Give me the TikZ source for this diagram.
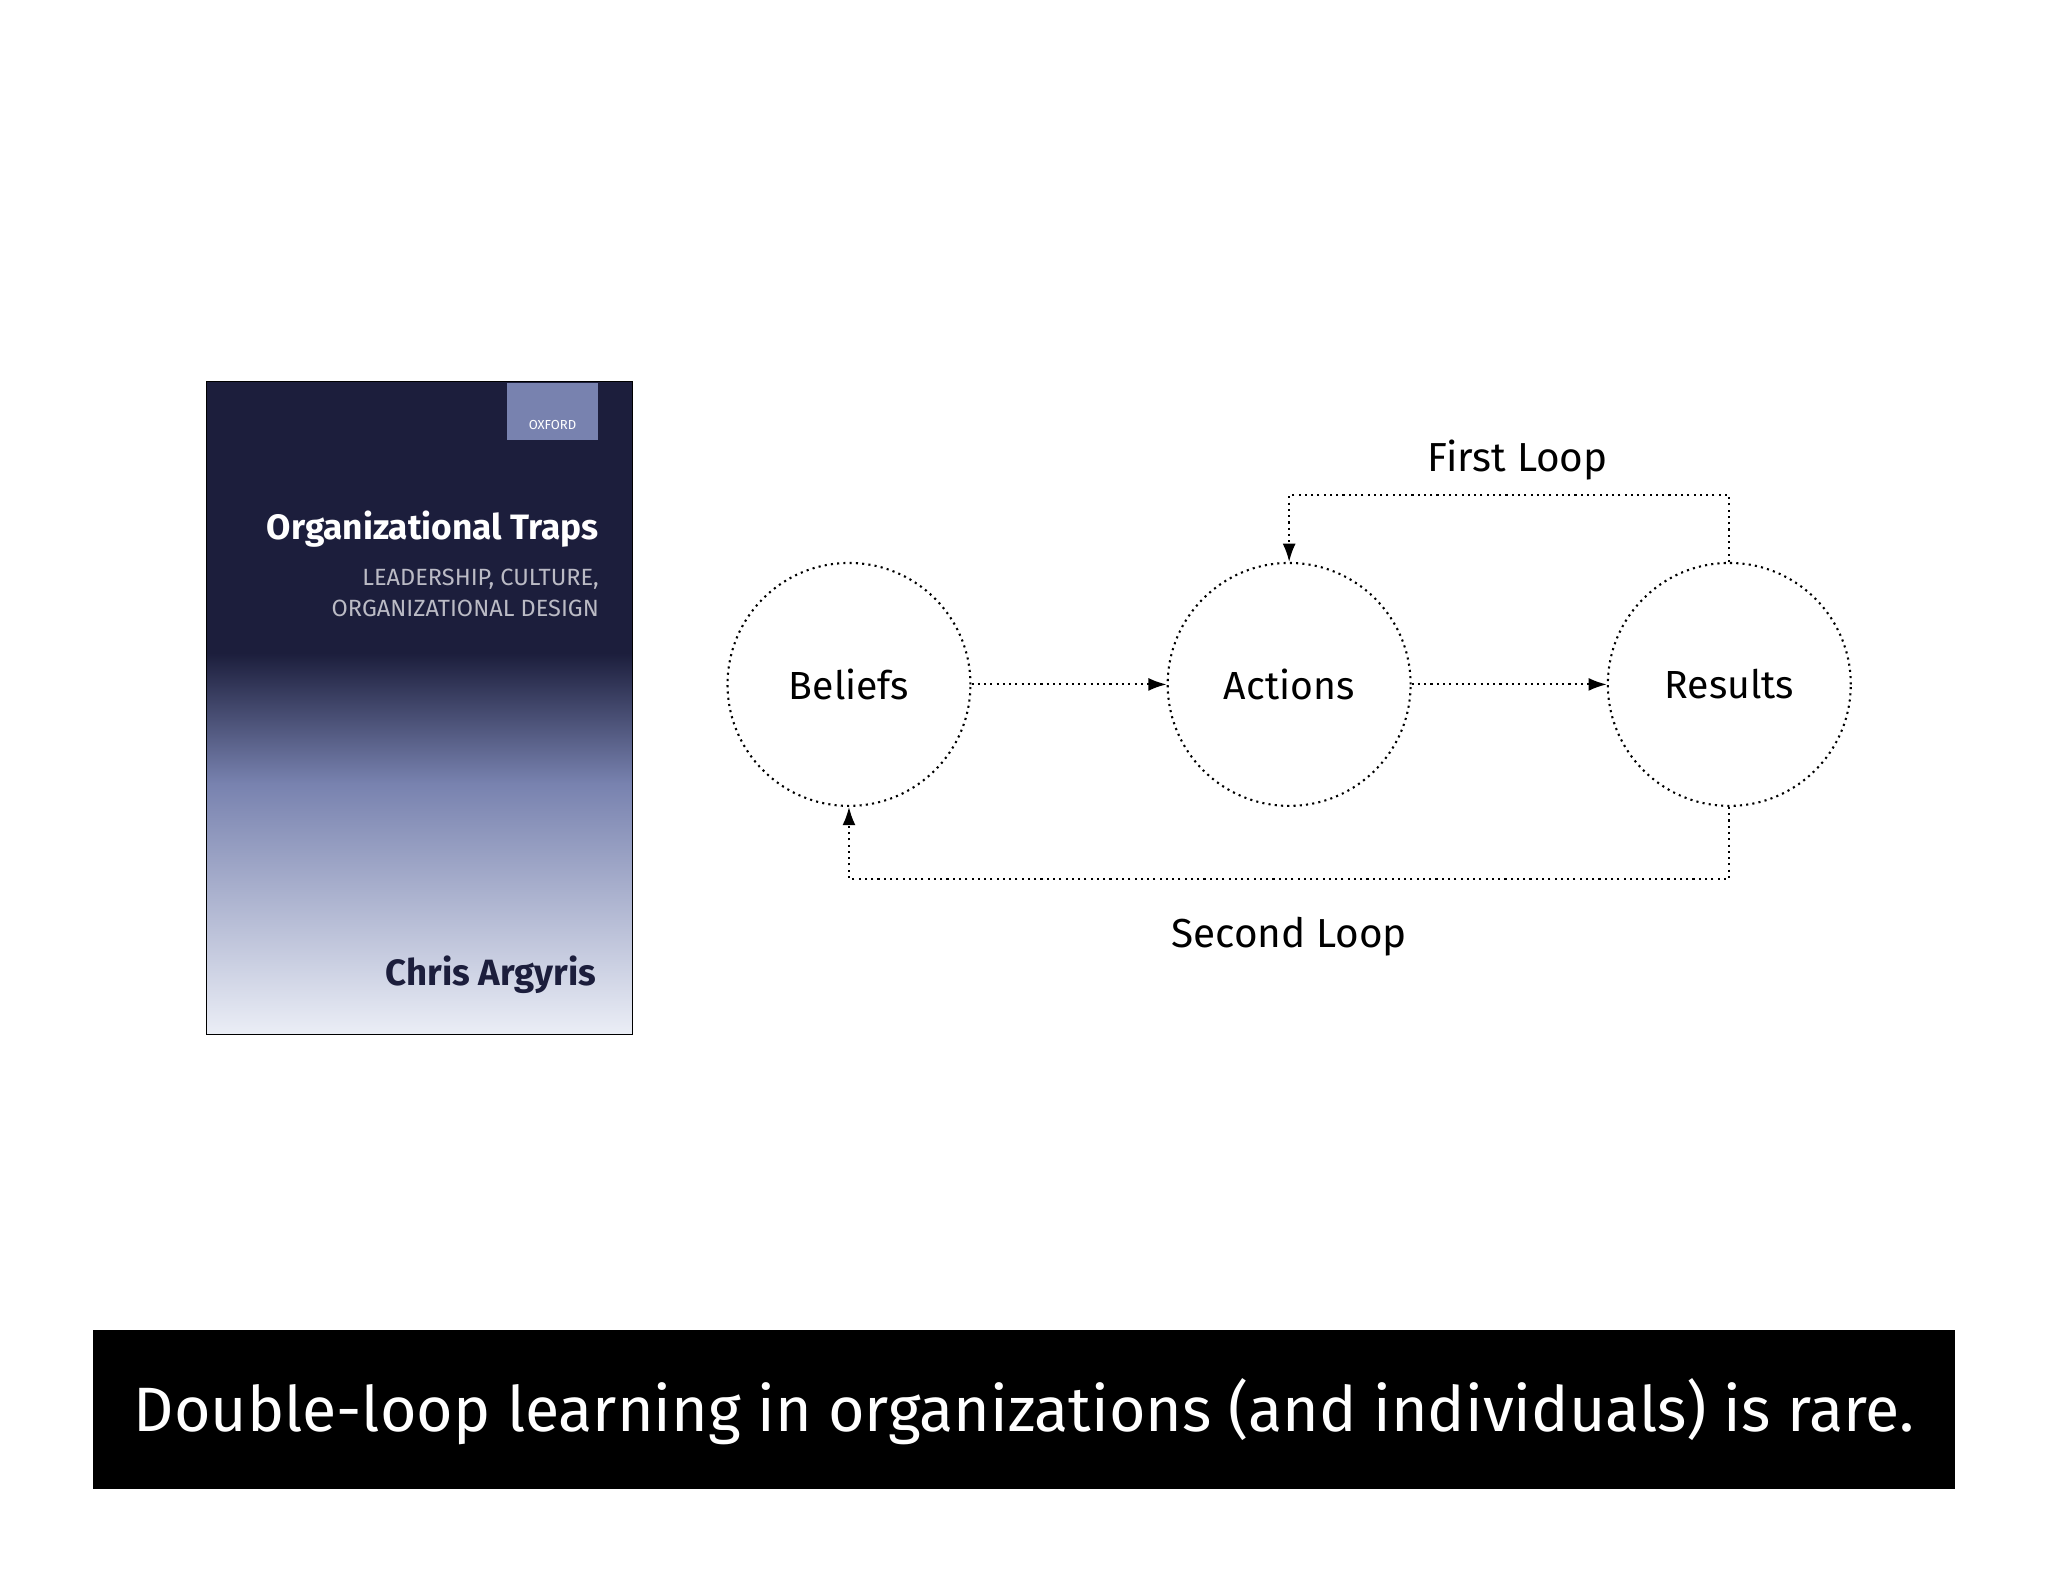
\documentclass[tikz,border=0pt]{standalone}
\usepackage{fontspec}
\setmainfont{Fira Sans}
\usetikzlibrary{arrows.meta,calc}
\definecolor{navy}{RGB}{28,30,60}
\definecolor{midblue}{RGB}{120,130,175}
\definecolor{paleblue}{RGB}{235,238,246}
\begin{document}
\begin{tikzpicture}[x=1pt,y=-1pt,
  circ/.style={circle,draw,dash pattern=on 1.6pt off 3.2pt,line width=1.6pt,minimum size=186pt,inner sep=0pt,font=\fontsize{30}{36}\selectfont},
  conn/.style={dash pattern=on 1.6pt off 3.2pt,line width=1.6pt,-{Latex[length=14pt,width=10pt]}},
  lbl/.style={font=\fontsize{31}{36}\selectfont}]
\useasboundingbox (0,0) rectangle (1568,1211);
\fill[white] (0,0) rectangle (1568,1211);
% book
\fill[navy] (158,292) rectangle (484,500);
\shade[top color=navy, bottom color=midblue] (158,500) rectangle (484,600);
\shade[top color=midblue, bottom color=paleblue] (158,600) rectangle (484,792);
\draw[line width=1pt] (158,292) rectangle (484,792);
\fill[midblue] (388,293) rectangle (458,337);
\node[font=\fontsize{10}{12}\selectfont, text=white] (ox) at (423,325) {OXFORD};
\node[anchor=east,text=white,font=\bfseries\fontsize{27}{30}\selectfont] (bt) at (462,405) {Organizational Traps};
\node[anchor=east,text=navy!30!white,font=\fontsize{18}{24}\selectfont,align=right] (bs) at (462,454) {LEADERSHIP, CULTURE,\\ORGANIZATIONAL DESIGN};
\node[anchor=east,text=navy,font=\bfseries\fontsize{28}{30}\selectfont] (ba) at (460,746) {Chris Argyris};
% circles
\node[circ] (b) at (650,524) {Beliefs};
\node[circ] (a) at (987,524) {Actions};
\node[circ] (r) at (1324,524) {Results};
\draw[conn] (b) -- (a);
\draw[conn] (a) -- (r);
\draw[conn] (r.north) -- ++(0,-51) -| (a.north);
\draw[conn] (r.south) -- ++(0,55) -| (b.south);
\node[lbl] (fl) at (1162,352) {First Loop};
\node[lbl] (sl) at (987,717) {Second Loop};
% banner
\fill (71,1018) rectangle (1497,1140);
\node[text=white,font=\fontsize{48}{56}\selectfont] (ban) at (784,1081) {Double-loop learning in organizations (and individuals) is rare.};
\end{tikzpicture}
\end{document}
